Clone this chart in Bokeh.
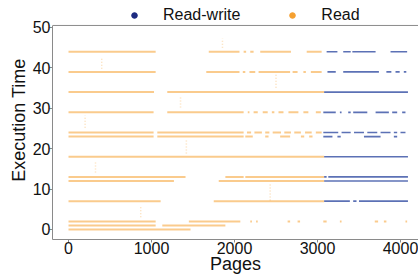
from bokeh.plotting import figure
from bokeh.models import (ColumnDataSource, Range1d, FixedTicker, Legend, LegendItem, Span)
from bokeh.embed import file_html
from bokeh.resources import INLINE

# ---- data: horizontal runs of pages per execution-time level ----
read_level = [44, 44, 44, 44, 44, 44,
              39, 39, 39, 39, 39, 39, 39, 39,
              34, 34,
              29, 29, 29, 29, 29, 29, 29, 29, 29, 29,
              24, 24, 24, 24, 24, 24, 24, 24, 24, 24,
              23, 23, 23, 23, 23, 23, 23,
              18,
              13, 13, 13,
              12, 12,
              7, 7,
              2, 2, 2, 2, 2, 2, 2, 2, 2, 2, 2,
              1, 1,
              0]
read_start = [0, 1690, 2110, 2190, 2310, 2870,
              0, 1660, 2100, 2180, 2290, 2700, 2830, 2920,
              0, 1190,
              0, 1190, 2160, 2230, 2340, 2450, 2530, 2650, 2830, 2980,
              0, 1070, 2150, 2240, 2370, 2460, 2600, 2720, 2850, 2980,
              0, 1070, 2130, 2370, 2550, 2800, 2900,
              0,
              0, 1890, 2130,
              0, 1810,
              0, 1750,
              0, 1450, 2190, 2260, 2640, 2760, 3070, 3270, 3690, 3800, 4060,
              0, 1130,
              0]
read_end = [1050, 2060, 2140, 2230, 2680, 3050,
            1050, 2060, 2130, 2250, 2670, 2760, 2860, 3050,
            1030, 3080,
            1025, 2110, 2180, 2280, 2400, 2480, 2590, 2770, 2890, 3040,
            1025, 2110, 2200, 2330, 2420, 2560, 2680, 2800, 2930, 3050,
            1025, 2110, 2220, 2410, 2670, 2840, 2940,
            3080,
            1410, 2110, 3080,
            1270, 3080,
            1110, 3080,
            1050, 2070, 2210, 2280, 2670, 2790, 3110, 3290, 3730, 3830, 4080,
            1050, 1890,
            1470]

rw_level = [44, 44, 44, 44,
            39, 39, 39, 39, 39,
            34,
            29, 29, 29, 29, 29, 29, 29,
            24, 24, 24, 24, 24, 24, 24,
            23, 23, 23, 23,
            18,
            13, 13,
            12,
            7, 7, 7]
rw_start = [3110, 3310, 3420, 3880,
            3120, 3310, 3830, 3940, 4040,
            3080,
            3070, 3270, 3370, 3430, 3700, 3900, 4020,
            3070, 3290, 3440, 3600, 3760, 3920, 4000,
            3070, 3240, 3560, 3920,
            3080,
            3080, 3130,
            3080,
            3080, 3430, 3500]
rw_end = [3240, 3400, 3700, 4080,
          3220, 3740, 3890, 3990, 4070,
          4090,
          3220, 3290, 3400, 3600, 3860, 3960, 4060,
          3250, 3400, 3560, 3720, 3880, 3960, 4060,
          3180, 3280, 3760, 3960,
          4090,
          3110, 4090,
          4090,
          3390, 3470, 4090]

# faint vertical scatter of Read points
scat_page = [400, 200, 1855, 1350, 325, 870, 2430, 1420, 2500]
scat_low = [39.8, 25.2, 45.0, 30.2, 14.1, 3.0, 7.2, 18.8, 35.1]
scat_high = [42.5, 28.2, 47.3, 33.0, 16.6, 5.9, 11.4, 22.0, 38.6]

x_ticks = [0, 1000, 2000, 3000, 4000]
y_ticks = [0, 10, 20, 30, 40, 50]
series_names = ["Read-write", "Read"]
x_title = "Pages"
y_title = "Execution Time"

READ_C = "#f5a030"
RW_C = "#1c2a80"
FONT = "Liberation Sans"
TXT = "#111111"
AX_C = "#8a8a8a"
Y_LO, Y_AX_TOP, Y_HI = -2.48, 50.5, 56.68
NAN = float("nan")

p = figure(frame_width=366, frame_height=239, output_backend="svg", toolbar_location=None,
           x_range=Range1d(-193, 4217), y_range=Range1d(Y_LO, Y_HI),
           min_border_left=52, min_border_right=0, min_border_top=0, min_border_bottom=41)
p.background_fill_color = "white"
p.border_fill_color = "white"
p.outline_line_color = None
p.xgrid.visible = False
p.ygrid.visible = False

read_src = ColumnDataSource(dict(y=read_level, x0=read_start, x1=read_end))
rw_src = ColumnDataSource(dict(y=rw_level, x0=rw_start, x1=rw_end))
scat_src = ColumnDataSource(dict(x=scat_page, y0=scat_low, y1=scat_high))

p.segment(x0="x", y0="y0", x1="x", y1="y1", source=scat_src, line_color=READ_C,
          line_alpha=0.35, line_width=1.5, line_dash="1 2")
p.segment(x0="x0", y0="y", x1="x1", y1="y", source=read_src, line_color=READ_C,
          line_alpha=0.55, line_width=2.0)
p.segment(x0="x0", y0="y", x1="x1", y1="y", source=rw_src, line_color="#3f58a8",
          line_alpha=0.85, line_width=1.7)

# top border of the plotting box
p.add_layout(Span(location=Y_AX_TOP, dimension="width", line_color=AX_C, line_width=1))

# legend keys: markers with no drawable position (NaN), used only for the legend glyph
leg_rw = p.scatter(x=[NAN], y=[NAN], size=7, color=RW_C)
leg_rd = p.scatter(x=[NAN], y=[NAN], size=7, color=READ_C)
legend = Legend(items=[LegendItem(label=series_names[0], renderers=[leg_rw], index=0),
                       LegendItem(label=series_names[1], renderers=[leg_rd], index=0)],
                location=(75, 214), orientation="horizontal",
                label_text_font=FONT, label_text_font_size="16px", label_text_color=TXT,
                glyph_width=14, glyph_height=14, label_height=20, label_standoff=22,
                spacing=45, padding=0, margin=0, border_line_color=None,
                background_fill_alpha=0)
p.add_layout(legend, "center")

for ax in (p.xaxis[0], p.yaxis[0]):
    ax.axis_line_color = AX_C
    ax.major_tick_line_color = AX_C
    ax.minor_tick_line_color = None
    ax.major_tick_in = 0
    ax.major_tick_out = 3
    ax.major_label_text_font = FONT
    ax.major_label_text_font_size = "16px"
    ax.major_label_text_color = TXT
    ax.major_label_standoff = -1
    ax.axis_label_text_font = FONT
    ax.axis_label_text_font_size = "18px"
    ax.axis_label_text_font_style = "normal"
    ax.axis_label_text_color = TXT

p.yaxis[0].bounds = (Y_LO, Y_AX_TOP)
p.xaxis[0].ticker = FixedTicker(ticks=x_ticks)
p.yaxis[0].ticker = FixedTicker(ticks=y_ticks)
p.xaxis[0].axis_label = x_title
p.yaxis[0].axis_label = y_title
p.xaxis[0].axis_label_standoff = -3
p.yaxis[0].axis_label_standoff = 1

open("out.html", "w").write(file_html(p, INLINE))
